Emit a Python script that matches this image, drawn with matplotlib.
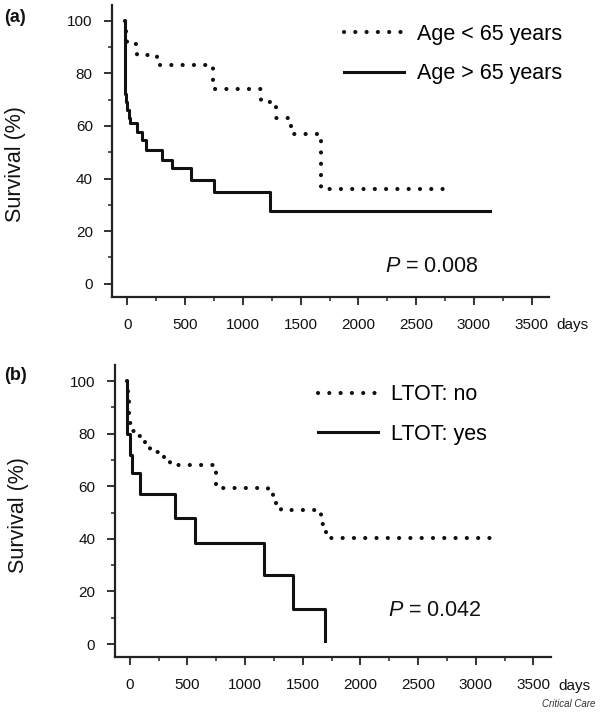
import matplotlib
matplotlib.use('Agg')
import matplotlib.pyplot as plt
from matplotlib.ticker import MultipleLocator

plt.rcParams['font.family'] = ['Liberation Sans', 'DejaVu Sans']
plt.rcParams['mathtext.fontset'] = 'custom'
plt.rcParams['mathtext.it'] = 'Liberation Sans:italic'
plt.rcParams['mathtext.rm'] = 'Liberation Sans'

# panel (a): survival by age group (days, % surviving)
young_days = [-25, -15, -5, 83, 258, 740, 1160, 1290, 1420, 1680, 2733]
young_surv = [100, 95, 91, 87, 83.3, 74, 69, 63, 57, 36.2, 36.2]
old_days = [-23, -23, -10, 0, 12, 26, 83, 126, 164, 299, 385, 552, 753, 1231, 3138]
old_surv = [100, 72, 69, 66, 63, 61, 57.7, 54.5, 50.8, 47.2, 44, 39.4, 34.7, 27.7, 27.7]

# panel (b): survival by long term oxygen therapy
ltot_no_days = [-25, -20, -15, -10, -5, 0, 25, 55, 85, 130, 175, 215, 260, 300, 345,
                750, 1200, 1240, 1270, 1310, 1655, 1670, 1685, 1700, 3145]
ltot_no_surv = [100, 97, 93, 90, 87, 84, 81, 79, 77.5, 75.5, 73.7, 73, 71.8, 69.8, 68,
                59.3, 57.4, 55.2, 53.3, 51, 49, 45.7, 42.5, 40.2, 40.2]
ltot_yes_days = [-21, -21, 5, 19, 92, 394, 564, 1161, 1418, 1692]
ltot_yes_surv = [100, 80, 72, 65, 57.1, 48, 38.3, 26.2, 13.5, 1.3]

x_ticks = [0, 500, 1000, 1500, 2000, 2500, 3000, 3500]
y_ticks = [0, 20, 40, 60, 80, 100]

ink = '#111111'
dot_style = dict(color=ink, linewidth=3.0, linestyle=(0, (0.01, 2.7)),
                 dash_capstyle='round')
solid_style = dict(color=ink, linewidth=2.2)


def style_axis(ax):
    ax.set_xlim(-132, 3650)
    ax.set_ylim(-5, 106)
    ax.set_xticks(x_ticks)
    ax.set_yticks(y_ticks)
    ax.xaxis.set_minor_locator(MultipleLocator(250))
    ax.yaxis.set_minor_locator(MultipleLocator(10))
    ax.spines['top'].set_visible(False)
    ax.spines['right'].set_visible(False)
    for side in ['left', 'bottom']:
        ax.spines[side].set_linewidth(1.6)
        ax.spines[side].set_color('#222222')
    ax.tick_params(which='major', direction='out', length=6, width=1.3,
                   labelsize=11, color='#222222', labelcolor=ink)
    ax.tick_params(axis='y', which='major', pad=8)
    ax.tick_params(axis='x', which='major', pad=9)
    ax.tick_params(which='minor', direction='out', length=3, width=1.1, color='#222222')
    ax.annotate('days', xy=(3500, 0), xycoords=('data', 'axes fraction'),
                xytext=(18, -20.5), textcoords='offset points',
                ha='left', va='center', fontsize=11, color=ink)


fig = plt.figure(figsize=(6, 7.12), dpi=100)
ax_a = fig.add_axes([0.187, 0.583, 0.728, 0.410])
ax_b = fig.add_axes([0.191, 0.077, 0.727, 0.410])

ax_a.step(young_days, young_surv, where='post', label='Age < 65 years', **dot_style)
ax_a.step(old_days, old_surv, where='post', label='Age > 65 years', **solid_style)
ax_b.step(ltot_no_days, ltot_no_surv, where='post', label='LTOT: no', **dot_style)
ax_b.step(ltot_yes_days, ltot_yes_surv, where='post', label='LTOT: yes', **solid_style)

for ax, leg_x, p_text, p_pos, lab_pos in [
        (ax_a, 0.531, r'$P$ = 0.008', (0.625, 0.103), (-0.197, 0.455)),
        (ax_b, 0.466, r'$P$ = 0.042', (0.627, 0.161), (-0.196, 0.486))]:
    style_axis(ax)
    ax.legend(loc='upper left', bbox_to_anchor=(leg_x, 0.935), frameon=False,
              fontsize=15.5, handlelength=2.8, handletextpad=0.6,
              labelspacing=0.85, borderpad=0, borderaxespad=0)
    ax.text(p_pos[0], p_pos[1], p_text, transform=ax.transAxes, fontsize=15.5,
            ha='left', va='center', color=ink)
    ax.set_ylabel('Survival (%)', fontsize=15.5, color=ink)
    ax.yaxis.set_label_coords(lab_pos[0], lab_pos[1])

fig.text(0.007, 0.975, '(a)', fontsize=13, fontweight='bold', va='center', color=ink)
fig.text(0.007, 0.473, '(b)', fontsize=13, fontweight='bold', va='center', color=ink)
fig.text(0.992, 0.004, 'Critical Care', fontsize=7, style='italic',
         ha='right', va='bottom', color='#333333')

fig.savefig('out.png', dpi=100)
